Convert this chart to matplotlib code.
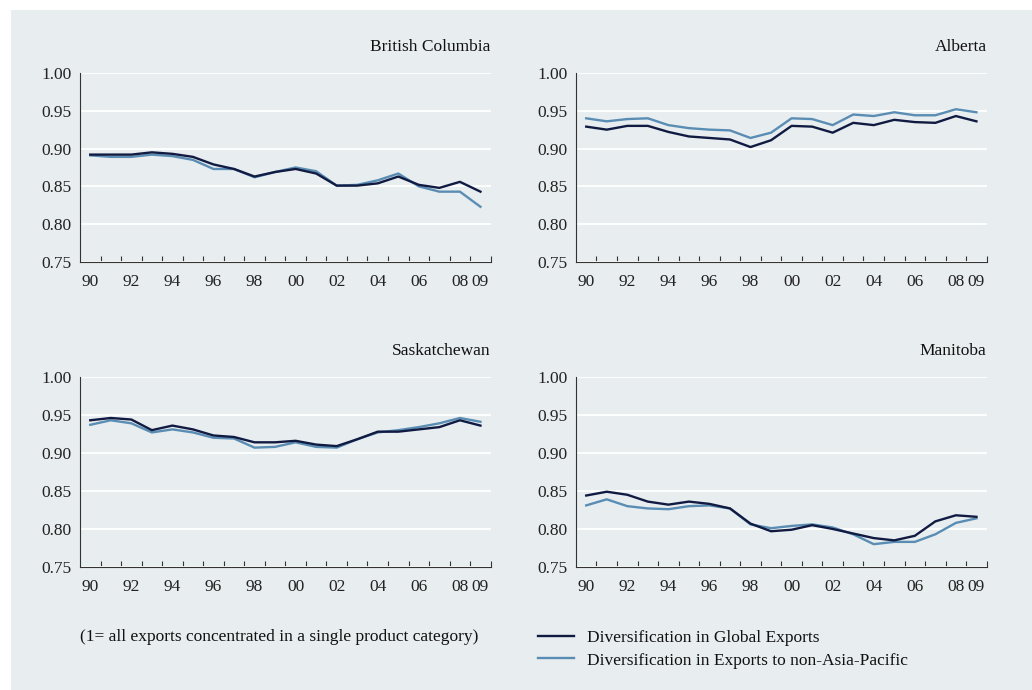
import matplotlib
matplotlib.use("Agg")
import matplotlib.pyplot as plt
import numpy as np
from matplotlib.patches import Rectangle

plt.rcParams['font.family'] = ['Liberation Serif', 'DejaVu Serif']

# Index de diversification par province, 1990-2009
annees = ["90", "91", "92", "93", "94", "95", "96", "97", "98", "99",
          "00", "01", "02", "03", "04", "05", "06", "07", "08", "09"]
etiquettes = ["90", "92", "94", "96", "98", "00", "02", "04", "06", "08", "09"]

provinces = ["British Columbia", "Alberta", "Saskatchewan", "Manitoba"]

global_bc = [0.892, 0.892, 0.892, 0.895, 0.893, 0.889, 0.879, 0.873, 0.863, 0.869,
             0.873, 0.867, 0.851, 0.851, 0.854, 0.863, 0.852, 0.848, 0.856, 0.843]
hors_ap_bc = [0.891, 0.889, 0.889, 0.892, 0.890, 0.885, 0.873, 0.873, 0.862, 0.869,
              0.875, 0.870, 0.851, 0.852, 0.858, 0.867, 0.850, 0.843, 0.843, 0.823]

global_ab = [0.929, 0.925, 0.930, 0.930, 0.922, 0.916, 0.914, 0.912, 0.902, 0.911,
             0.930, 0.929, 0.921, 0.934, 0.931, 0.938, 0.935, 0.934, 0.943, 0.936]
hors_ap_ab = [0.940, 0.936, 0.939, 0.940, 0.931, 0.927, 0.925, 0.924, 0.914, 0.921,
              0.940, 0.939, 0.931, 0.945, 0.943, 0.948, 0.944, 0.944, 0.952, 0.948]

global_sk = [0.943, 0.946, 0.944, 0.930, 0.936, 0.931, 0.923, 0.921, 0.914, 0.914,
             0.916, 0.911, 0.909, 0.918, 0.928, 0.928, 0.931, 0.934, 0.943, 0.936]
hors_ap_sk = [0.937, 0.943, 0.939, 0.927, 0.931, 0.927, 0.920, 0.919, 0.907, 0.908,
              0.914, 0.908, 0.907, 0.918, 0.927, 0.930, 0.934, 0.939, 0.946, 0.941]

global_mb = [0.844, 0.849, 0.845, 0.836, 0.832, 0.836, 0.833, 0.827, 0.807, 0.797,
             0.799, 0.805, 0.800, 0.794, 0.788, 0.785, 0.791, 0.810, 0.818, 0.816]
hors_ap_mb = [0.831, 0.839, 0.830, 0.827, 0.826, 0.830, 0.831, 0.827, 0.806, 0.801,
              0.804, 0.806, 0.802, 0.793, 0.780, 0.783, 0.783, 0.793, 0.808, 0.814]

series_global = [global_bc, global_ab, global_sk, global_mb]
series_hors_ap = [hors_ap_bc, hors_ap_ab, hors_ap_sk, hors_ap_mb]

nom_global = "Diversification in Global Exports"
nom_hors_ap = "Diversification in Exports to non-Asia-Pacific"
note = "(1= all exports concentrated in a single product category)"

fond = '#e8edf0'
bleu_fonce = '#111b42'
bleu_clair = '#5a8db3'

fig = plt.figure(figsize=(10.32, 6.9), dpi=100, facecolor='white')
fig.add_artist(Rectangle((11 / 1032, 0), 1, 680 / 690, transform=fig.transFigure,
                         facecolor=fond, edgecolor='none', zorder=0))

# positions des quatre panneaux (gauche, bas, largeur, hauteur)
cadres = [
    [0.0775, 0.6203, 0.398, 0.274],
    [0.5581, 0.6203, 0.398, 0.274],
    [0.0775, 0.1783, 0.398, 0.2754],
    [0.5581, 0.1783, 0.398, 0.2754],
]

x = np.arange(len(annees))
pos_etiq = [annees.index(a) for a in etiquettes]

for cadre, nom, g, h in zip(cadres, provinces, series_global, series_hors_ap):
    ax = fig.add_axes(cadre)
    ax.set_facecolor('none')
    l1, = ax.plot(x, g, color=bleu_fonce, linewidth=1.7, label=nom_global, zorder=4)
    l2, = ax.plot(x, h, color=bleu_clair, linewidth=1.7, label=nom_hors_ap, zorder=3)

    ax.set_xlim(-0.5, len(annees) - 0.5)
    ax.set_ylim(0.75, 1.0)
    ax.set_yticks([0.75, 0.80, 0.85, 0.90, 0.95, 1.00])
    ax.set_yticklabels(["0.75", "0.80", "0.85", "0.90", "0.95", "1.00"])
    ax.set_xticks(pos_etiq)
    ax.set_xticklabels(etiquettes)
    ax.set_xticks(np.arange(0.5, len(annees), 1.0), minor=True)

    ax.tick_params(axis='x', which='major', length=0, pad=9, labelsize=12.5, colors='#222222')
    ax.tick_params(axis='x', which='minor', direction='in', length=4, width=0.8,
                   color='#333333')
    ax.tick_params(axis='y', length=0, pad=6, labelsize=12.5, colors='#222222')

    ax.grid(axis='y', color='white', linewidth=1.3, zorder=1)
    ax.set_axisbelow(True)
    for c in ['top', 'right']:
        ax.spines[c].set_visible(False)
    for c in ['left', 'bottom']:
        ax.spines[c].set_color('#333333')
        ax.spines[c].set_linewidth(0.8)

    ax.set_title(nom, loc='right', pad=16, fontsize=12.5, color='#111111')

fig.text(80 / 1032, 1 - 637 / 690, note, fontsize=12.5, va='center', ha='left',
         color='#111111')

fig.legend(handles=[l1, l2], loc='upper left', bbox_to_anchor=(538 / 1032, 1 - 630 / 690),
           frameon=False, fontsize=12.5, handlelength=2.1, handletextpad=0.75,
           labelspacing=0.36, borderpad=0, borderaxespad=0, labelcolor='#111111')

fig.savefig("out.png", dpi=100, facecolor=fig.get_facecolor())
